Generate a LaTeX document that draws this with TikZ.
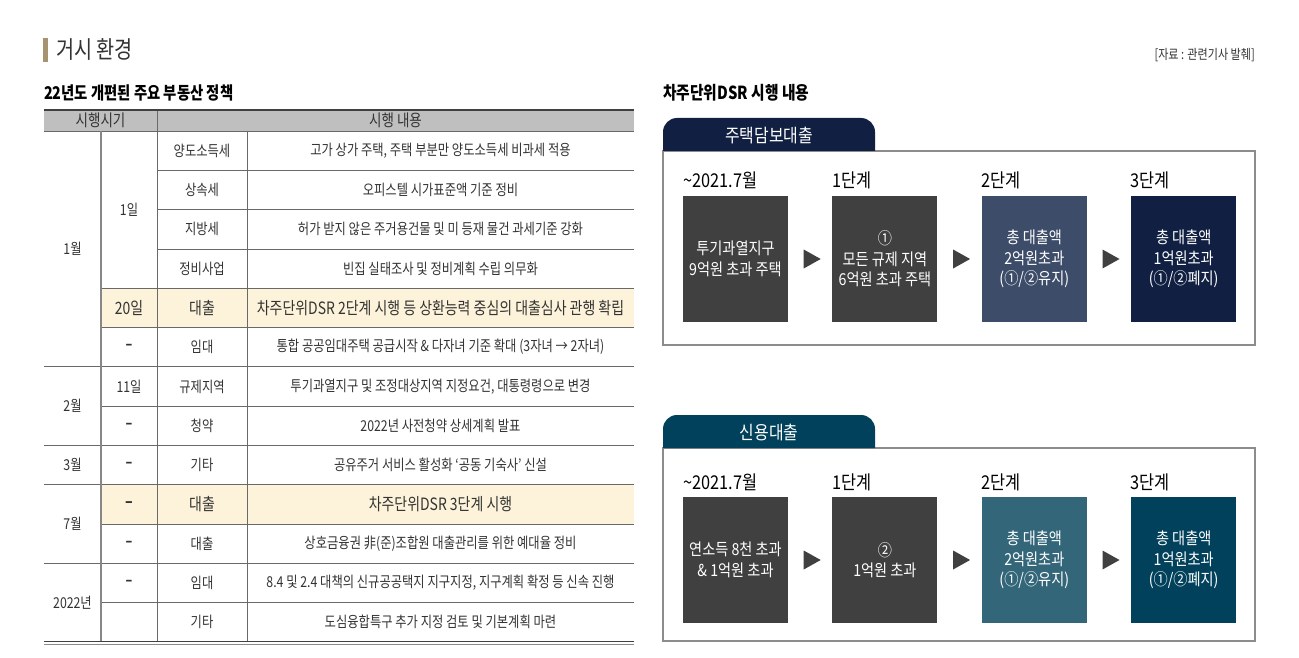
\documentclass[tikz,border=0pt]{standalone}
\usepackage{fontspec}
\setmainfont{Noto Sans CJK KR}[FakeStretch=0.82]
\newfontfamily\panelfont{Noto Sans CJK KR}[FakeStretch=0.86]
\usepackage{xcolor}
\definecolor{macrogold}{RGB}{168,147,112}
\definecolor{macrotext}{RGB}{51,51,51}
\definecolor{macrohead}{RGB}{191,191,191}
\definecolor{macrocream}{RGB}{253,243,218}
\definecolor{macrorule}{RGB}{105,105,105}
\definecolor{macroframe}{RGB}{140,140,140}
\definecolor{stepgray}{RGB}{64,64,64}
\definecolor{homeslate}{RGB}{61,76,105}
\definecolor{homenavy}{RGB}{17,32,66}
\definecolor{credteal}{RGB}{52,102,122}
\definecolor{credpetrol}{RGB}{2,65,91}
\usepackage{tikz}
\usetikzlibrary{positioning,calc}

\tikzset{
  cell/.style={inner sep=0pt,text=macrotext,font=\fontsize{15}{17}\selectfont},
  hicell/.style={cell,font=\fontsize{17}{19}\selectfont},
  rule/.style={draw=macrorule,line width=0.7pt},
  steplabel/.style={anchor=west,inner sep=0pt,text=black,font=\panelfont\fontsize{19}{21}\selectfont},
  stepbox/.style={minimum width=105pt,minimum height=126pt,inner sep=0pt,align=center,text=white,
    font=\panelfont\fontsize{16.5}{20.5}\selectfont},
  tabtext/.style={text=white,inner sep=0pt,font=\panelfont\fontsize{18.5}{20}\selectfont},
}

\begin{document}
\begin{tikzpicture}[x=1pt,y=-1pt]
\useasboundingbox (0,0) rectangle (1299,658);
\fill[white] (0,0) rectangle (1299,658);

\fill[macrogold] (43,38) rectangle (47.5,62);
\node[anchor=west,inner sep=0pt,text=macrotext,font=\fontsize{24}{26}\selectfont] (title) at (56,49) {거시 환경};
\node[anchor=east,inner sep=0pt,text=macrotext,font=\fontsize{13.5}{15}\selectfont] (source) at (1255,55) {[자료 : 관련기사 발췌]};

% policy table
\node[anchor=west,inner sep=0pt,font=\bfseries\fontsize{17.5}{19}\selectfont] (tabletitle) at (44,93) {22년도 개편된 주요 부동산 정책};
\fill[macrohead] (44,110) rectangle (634,131);
\fill[macrocream] (101,288.2) rectangle (634,327.5);
\fill[macrocream] (101,484.7) rectangle (634,524);
\foreach \y in {170.3,209.6,248.9} \draw[rule] (157,\y) -- (634,\y);
\foreach \y in {288.2,327.5,406.1,524,602.6} \draw[rule] (101,\y) -- (634,\y);
\foreach \y in {131,366.8,445.4,484.7,563.3} \draw[rule] (44,\y) -- (634,\y);
\draw[rule,line width=1.2pt,draw=macrorule!80] (101,131) -- (101,642);
\draw[rule] (157,110) -- (157,642);
\draw[rule] (247,131) -- (247,642);
\draw[line width=2pt,draw=black!75] (44,110) -- (634,110);
\draw[line width=1.8pt,draw=black!75] (44,641.5) -- (634,641.5);
\draw[line width=0.8pt,draw=black!45] (44,644.3) -- (634,644.3);

\node[cell,font=\fontsize{16.5}{18}\selectfont] (headtime) at (100.5,120.5) {시행시기};
\node[cell,font=\fontsize{16.5}{18}\selectfont] (headtext) at (395.5,120.5) {시행 내용};

\foreach \m/\y [count=\k] in {1월/248.9,2월/406.1,3월/465.05,7월/524,2022년/602.6}
  \node[cell] (month\k) at (72.5,\y) {\m};
\foreach \d/\y [count=\k] in {1일/209.6,\textbf{–}/347.15,11일/386.45,\textbf{–}/425.75,\textbf{–}/465.05,\textbf{–}/543.65,\textbf{–}/582.95}
  \node[cell] (day\k) at (129,\y) {\d};
\node[hicell] (dayjan) at (129,307.85) {20일};
\node[hicell] (dayjul) at (129,504.35) {\textbf{–}};

\foreach \i/\st/\cat/\txt in {
  0/cell/양도소득세/{고가 상가 주택, 주택 부분만 양도소득세 비과세 적용},
  1/cell/상속세/오피스텔 시가표준액 기준 정비,
  2/cell/지방세/허가 받지 않은 주거용건물 및 미 등재 물건 과세기준 강화,
  3/cell/정비사업/빈집 실태조사 및 정비계획 수립 의무화,
  4/hicell/대출/차주단위DSR 2단계 시행 등 상환능력 중심의 대출심사 관행 확립,
  5/cell/임대/통합 공공임대주택 공급시작 \& 다자녀 기준 확대 (3자녀 → 2자녀),
  6/cell/규제지역/{투기과열지구 및 조정대상지역 지정요건, 대통령령으로 변경},
  7/cell/청약/2022년 사전청약 상세계획 발표,
  8/cell/기타/공유주거 서비스 활성화 ‘공동 기숙사’ 신설,
  9/hicell/대출/차주단위DSR 3단계 시행,
  10/cell/대출/상호금융권 非(준)조합원 대출관리를 위한 예대율 정비,
  11/cell/임대/{8.4 및 2.4 대책의 신규공공택지 지구지정, 지구계획 확정 등 신속 진행},
  12/cell/기타/도심융합특구 추가 지정 검토 및 기본계획 마련} {
  \node[\st] (cat\i) at (202,131+39.3*\i+19.65) {\cat};
  \node[\st] (txt\i) at (440.5,131+39.3*\i+19.65) {\txt};
}

% DSR panels
\node[anchor=west,inner sep=0pt,font=\bfseries\fontsize{18}{20}\selectfont] (dsrtitle) at (663,93) {차주단위DSR 시행 내용};

\draw[draw=macroframe,line width=1.3pt] (663,151) rectangle (1255,345);
\fill[homenavy] (663,151) -- (663,132) arc[start angle=180,end angle=270,radius=14] -- (861,118) arc[start angle=270,end angle=360,radius=14] -- (875,151) -- cycle;
\node[tabtext] (hometab) at (769,136) {주택담보대출};
\foreach \lab/\x [count=\k from 0] in {\textasciitilde 2021.7월/683,1단계/832,2단계/981,3단계/1130}
  \node[steplabel] (homelab\k) at (\x,180) {\lab};
\node[stepbox,fill=stepgray] (home0) at (735.5,259) {투기과열지구\\9억원 초과 주택};
\node[stepbox,fill=stepgray,right=44pt of home0] (home1) {①\\모든 규제 지역\\6억원 초과 주택};
\node[stepbox,fill=homeslate,right=44pt of home1] (home2) {총 대출액\\2억원초과\\(①/②유지)};
\node[stepbox,fill=homenavy,right=44pt of home2] (home3) {총 대출액\\1억원초과\\(①/②폐지)};

\draw[draw=macroframe,line width=1.3pt] (663,448) rectangle (1255,641);
\fill[credpetrol] (663,448) -- (663,429) arc[start angle=180,end angle=270,radius=14] -- (861,415) arc[start angle=270,end angle=360,radius=14] -- (875,448) -- cycle;
\node[tabtext] (credtab) at (769,433) {신용대출};
\foreach \lab/\x [count=\k from 0] in {\textasciitilde 2021.7월/683,1단계/832,2단계/981,3단계/1130}
  \node[steplabel] (credlab\k) at (\x,482) {\lab};
\node[stepbox,fill=stepgray] (cred0) at (735.5,560) {연소득 8천 초과\\\& 1억원 초과};
\node[stepbox,fill=stepgray,right=44pt of cred0] (cred1) {②\\1억원 초과};
\node[stepbox,fill=credteal,right=44pt of cred1] (cred2) {총 대출액\\2억원초과\\(①/②유지)};
\node[stepbox,fill=credpetrol,right=44pt of cred2] (cred3) {총 대출액\\1억원초과\\(①/②폐지)};

\foreach \a/\b in {home0/home1,home1/home2,home2/home3,cred0/cred1,cred1/cred2,cred2/cred3} {
  \coordinate (to\b) at ($(\a.east)!0.5!(\b.west)$);
  \fill[stepgray] ($(to\b)+(-6.5,-9.5)$) -- ($(to\b)+(-6.5,9.5)$) -- ($(to\b)+(10.5,0)$) -- cycle;
}
\end{tikzpicture}
\end{document}
